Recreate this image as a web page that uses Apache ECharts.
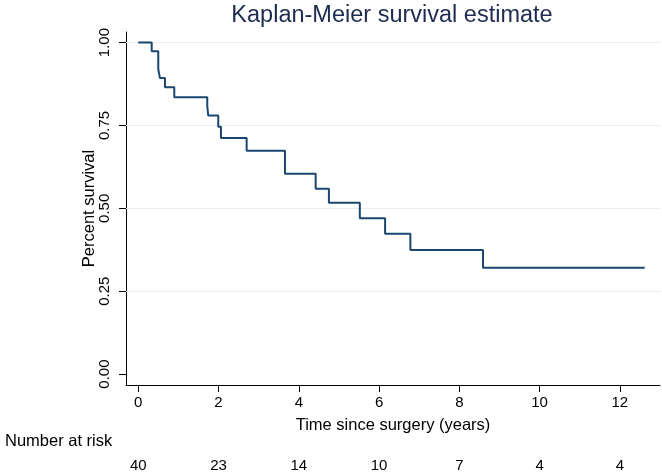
<!DOCTYPE html>
<html>
<head>
<meta charset="utf-8">
<script src="https://cdn.jsdelivr.net/npm/echarts@6/dist/echarts.min.js"></script>
<style>
html,body{margin:0;padding:0;background:#fff;}
#chart{width:662px;height:475px;}
</style>
</head>
<body>
<div id="chart"></div>
<script>
// Kaplan-Meier step points: time (years) and survival after that time
var times    = [0, 0.334, 0.498, 0.54, 0.665, 0.897, 1.719, 1.744, 1.993, 2.06, 2.70, 3.655, 4.42, 4.75, 5.52, 6.15, 6.78, 8.59, 12.62];
var survival = [1.0, 0.974, 0.92, 0.893, 0.865, 0.835, 0.808, 0.780, 0.746, 0.712, 0.674, 0.604, 0.559, 0.517, 0.470, 0.423, 0.374, 0.321, 0.321];

var xTicks = [0, 2, 4, 6, 8, 10, 12];
var yTicks = [0, 0.25, 0.5, 0.75, 1.0];
var gridValues = [0.25, 0.5, 0.75, 1.0];
var riskTimes = [0, 2, 4, 6, 8, 10, 12];
var riskCounts = [40, 23, 14, 10, 7, 4, 4];

var FONT = 'Liberation Sans, Arial, Helvetica, sans-serif';
var kmData = times.map(function (t, i) { return [t, survival[i]]; });

var chart = echarts.init(document.getElementById('chart'), null, {renderer: 'canvas'});
chart.setOption({
  animation: false,
  backgroundColor: '#ffffff',
  title: [
    {
      text: 'Kaplan-Meier survival estimate',
      left: 392, top: 4, textAlign: 'center', padding: 0,
      textStyle: {fontFamily: FONT, fontSize: 23.5, fontWeight: 'normal', color: '#1c2b4f'}
    },
    {
      text: 'Number at risk',
      left: 5, top: 433, padding: 0,
      textStyle: {fontFamily: FONT, fontSize: 16.5, fontWeight: 'normal', color: '#000'}
    }
  ],
  grid: {left: 126, right: 2, top: 32, bottom: 90, containLabel: false},
  xAxis: [
    {
      type: 'value', min: -0.306, max: 13.0,
      axisLine: {show: true, onZero: false, lineStyle: {color: '#000', width: 1}},
      axisTick: {show: true, length: 7, customValues: xTicks, lineStyle: {color: '#000'}},
      axisLabel: {customValues: xTicks, margin: 10, fontFamily: FONT, fontSize: 15, color: '#000'},
      splitLine: {show: false},
      name: 'Time since surgery (years)', nameLocation: 'middle', nameGap: 32,
      nameTextStyle: {fontFamily: FONT, fontSize: 16.5, color: '#000'}
    },
    {
      type: 'value', min: -0.306, max: 13.0, position: 'bottom',
      axisLine: {show: false}, axisTick: {show: false}, splitLine: {show: false},
      axisLabel: {
        customValues: riskTimes, margin: 73, fontFamily: FONT, fontSize: 15, color: '#000',
        formatter: function (v) {
          var i = riskTimes.indexOf(v);
          return i >= 0 ? String(riskCounts[i]) : '';
        }
      }
    }
  ],
  yAxis: {
    type: 'value', min: -0.033, max: 1.032,
    axisLine: {show: true, onZero: false, lineStyle: {color: '#000', width: 1}},
    axisTick: {show: true, length: 7, customValues: yTicks, lineStyle: {color: '#000'}},
    axisLabel: {
      customValues: yTicks, rotate: 90, margin: 14, fontFamily: FONT, fontSize: 15, color: '#000',
      formatter: function (v) { return v.toFixed(2); }
    },
    splitLine: {show: false},
    name: 'Percent survival', nameLocation: 'middle', nameGap: 28, nameRotate: 90,
    nameMoveOverlap: false,
    nameTextStyle: {fontFamily: FONT, fontSize: 16.5, color: '#000'}
  },
  series: [
    {
      type: 'line', data: [], z: 1, silent: true,
      markLine: {
        silent: true, z: 1, symbol: ['none', 'none'], label: {show: false},
        lineStyle: {color: '#e6eff1', width: 1, type: 'solid'},
        animation: false,
        data: gridValues.map(function (v) { return {yAxis: v}; })
      }
    },
    {
      type: 'line', step: 'end', data: kmData, z: 6,
      showSymbol: false, symbol: 'none',
      lineStyle: {color: '#1a476f', width: 2},
      xAxisIndex: 0
    }
  ]
});
</script>
</body>
</html>
